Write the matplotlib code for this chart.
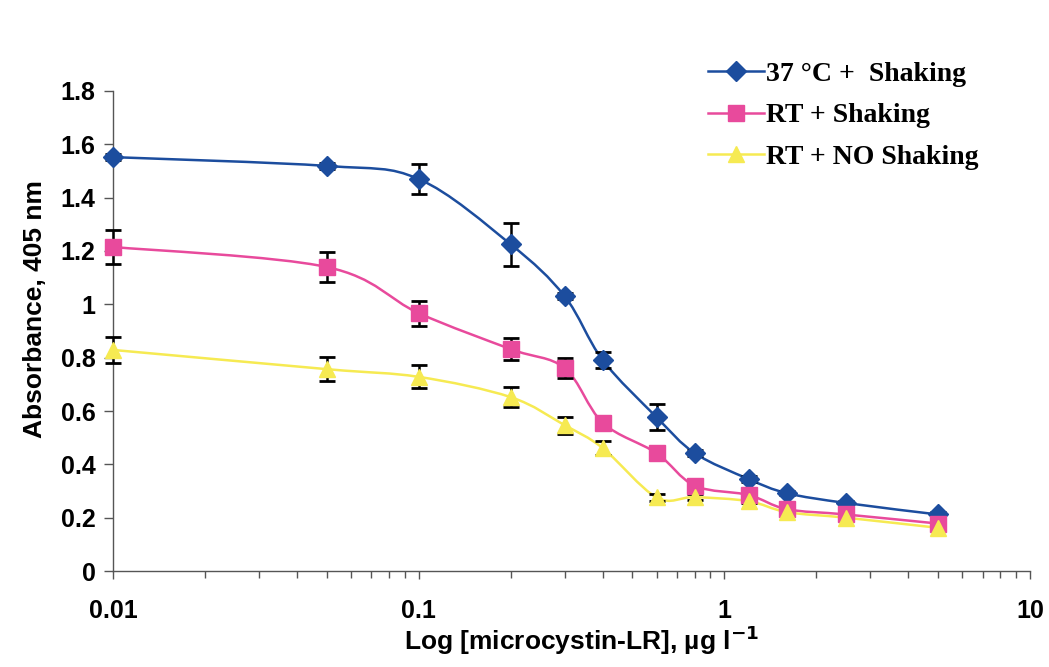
import numpy as np
import matplotlib
matplotlib.use("Agg")
import matplotlib.pyplot as plt
from matplotlib.path import Path
from matplotlib.patches import PathPatch
from matplotlib.lines import Line2D

# microcystin-LR concentration, ug/l
conc = [0.01, 0.05, 0.1, 0.2, 0.3, 0.4, 0.6, 0.8, 1.2, 1.6, 2.5, 5.0]

# absorbance at 405 nm and error bars for each condition
abs_37_shake = [1.552, 1.519, 1.470, 1.225, 1.031, 0.791, 0.577, 0.442, 0.345, 0.292, 0.255, 0.212]
err_37_shake = [0.010, 0.010, 0.056, 0.080, 0.010, 0.030, 0.048, 0.012, 0.010, 0.008, 0.008, 0.008]

abs_rt_shake = [1.215, 1.140, 0.967, 0.832, 0.761, 0.556, 0.442, 0.320, 0.285, 0.232, 0.212, 0.178]
err_rt_shake = [0.062, 0.056, 0.047, 0.042, 0.038, 0.025, 0.010, 0.010, 0.010, 0.008, 0.008, 0.008]

abs_rt_noshake = [0.829, 0.757, 0.728, 0.652, 0.547, 0.461, 0.276, 0.277, 0.262, 0.221, 0.200, 0.162]
err_rt_noshake = [0.048, 0.045, 0.043, 0.038, 0.032, 0.026, 0.012, 0.010, 0.008, 0.008, 0.006, 0.006]

labels = ["37 \u00b0C +  Shaking", "RT + Shaking", "RT + NO Shaking"]
colors = ["#1c4d9e", "#e84a9c", "#f6ea52"]
markers = ["D", "s", "^"]
msizes = [10.5, 11, 11]


def smooth_path(x, y):
    """Excel-like smoothed line: Catmull-Rom bezier segments in log-x space."""
    lx = np.log10(np.asarray(x, float))
    y = np.asarray(y, float)
    n = len(lx)
    verts = [(10 ** lx[0], y[0])]
    codes = [Path.MOVETO]
    for i in range(n - 1):
        p0 = i - 1 if i > 0 else i
        p3 = i + 2 if i + 2 < n else i + 1
        c1x = lx[i] + (lx[i + 1] - lx[p0]) / 6
        c1y = y[i] + (y[i + 1] - y[p0]) / 6
        c2x = lx[i + 1] - (lx[p3] - lx[i]) / 6
        c2y = y[i + 1] - (y[p3] - y[i]) / 6
        verts += [(10 ** c1x, c1y), (10 ** c2x, c2y), (10 ** lx[i + 1], y[i + 1])]
        codes += [Path.CURVE4] * 3
    return Path(verts, codes)


fig = plt.figure(figsize=(10.49, 6.67), dpi=100)
ax = fig.add_axes([0.1077, 0.1439, 0.8742, 0.7197])
ax.set_xscale("log")
ax.set_xlim(0.01, 10)
ax.set_ylim(0, 1.8)

series = [(abs_37_shake, err_37_shake), (abs_rt_shake, err_rt_shake), (abs_rt_noshake, err_rt_noshake)]
handles = []
for (vals, errs), lab, col, mk, ms in zip(series, labels, colors, markers, msizes):
    ax.add_patch(PathPatch(smooth_path(conc, vals), fill=False, edgecolor=col, lw=1.8, zorder=2))
    eb = ax.errorbar(conc, vals, yerr=errs, fmt="none", ecolor="black", elinewidth=1.8,
                     capsize=5.5, capthick=2, zorder=3)
    for art in eb.lines[1] + eb.lines[2]:
        art.set_clip_on(False)
    ax.plot(conc, vals, linestyle="none", marker=mk, markersize=ms, color=col, zorder=4, clip_on=False)
    handles.append(Line2D([], [], color=col, lw=1.8, marker=mk, markersize=ms, label=lab))

# axes styling
for side in ["top", "right"]:
    ax.spines[side].set_visible(False)
for side in ["left", "bottom"]:
    ax.spines[side].set_color("#555555")
    ax.spines[side].set_linewidth(1.0)

ax.set_yticks([0, 0.2, 0.4, 0.6, 0.8, 1.0, 1.2, 1.4, 1.6, 1.8])
ax.set_yticklabels(["0", "0.2", "0.4", "0.6", "0.8", "1", "1.2", "1.4", "1.6", "1.8"])
ax.set_xticks([0.01, 0.1, 1, 10])
ax.set_xticklabels(["0.01", "0.1", "1", "10"])

for t in ax.get_xticklabels() + ax.get_yticklabels():
    t.set_fontfamily("Liberation Sans")
    t.set_fontweight("bold")
    t.set_fontsize(18)

ax.tick_params(axis="y", which="major", direction="out", length=6.5, width=1, color="#555555", pad=6)
ax.tick_params(axis="x", which="major", direction="out", length=6, width=1, color="#555555", pad=14)
ax.tick_params(axis="x", which="minor", direction="out", length=5, width=1, color="#555555")

label_font = {"family": "Liberation Sans", "weight": "bold", "size": 19}
ax.set_xlabel("Log [microcystin-LR], \u00b5g l$^{\\mathbf{-1}}$", fontdict=label_font)
ax.xaxis.set_label_coords(0.511, -0.11)
ax.set_ylabel("Absorbance, 405 nm", fontdict=label_font)
ax.yaxis.set_label_coords(-0.072, 0.545)

leg = fig.legend(handles=handles, loc="upper left", bbox_to_anchor=(0.675, 0.908),
                 frameon=False, borderpad=0, borderaxespad=0, handlelength=2.0,
                 handletextpad=0.1, labelspacing=0.58,
                 prop={"family": "Liberation Serif", "weight": "bold", "size": 20})

fig.savefig("out.png", dpi=100)
